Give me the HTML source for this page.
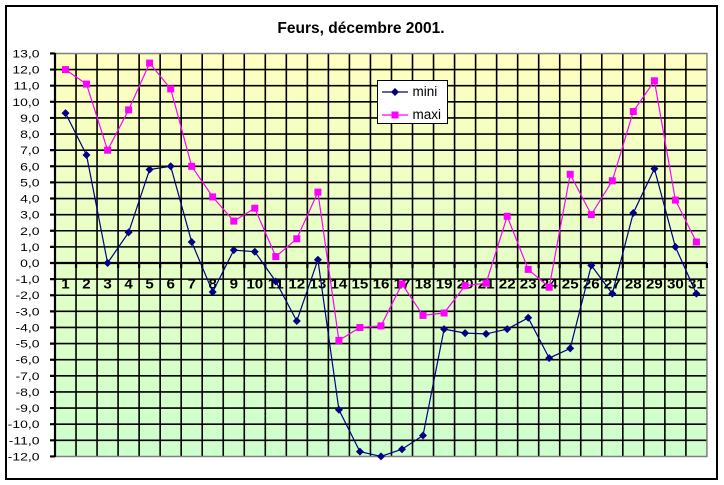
<!DOCTYPE html>
<html>
<head>
<meta charset="utf-8">
<style>
html,body{margin:0;padding:0;background:#fff;}
svg{display:block;}
text{font-family:"Liberation Sans",Arial,sans-serif;}
</style>
</head>
<body>
<svg width="724" height="485" viewBox="0 0 724 485" xmlns="http://www.w3.org/2000/svg">
<defs>
<linearGradient id="bg" x1="0" y1="0" x2="0" y2="1">
<stop offset="0" stop-color="#FFFFC0"/>
<stop offset="1" stop-color="#CCFFCC"/>
</linearGradient>
<marker id="dm" markerWidth="9" markerHeight="9" refX="4.5" refY="4.5" markerUnits="userSpaceOnUse">
<path d="M4.5,0.5 L8.5,4.5 L4.5,8.5 L0.5,4.5Z" fill="#000080"/>
</marker>
<marker id="sq" markerWidth="8" markerHeight="8" refX="4" refY="4" markerUnits="userSpaceOnUse">
<rect x="0.5" y="0.5" width="7" height="7" fill="#FF00FF"/>
</marker>
</defs>
<rect x="0" y="0" width="724" height="485" fill="#fff"/>
<rect x="6" y="6" width="711" height="473" fill="#fff" stroke="#000" stroke-width="2"/>

<text x="361" y="33" font-size="15.5" font-weight="bold" text-anchor="middle">Feurs, décembre 2001.</text>

<!-- plot area -->
<rect x="55" y="53.44" width="651.93" height="403" fill="url(#bg)"/>
<g stroke="#000" stroke-width="1.6" fill="none">
<path d="M55,69.56H707M55,85.68H707M55,101.8H707M55,117.92H707M55,134.04H707M55,150.16H707M55,166.28H707M55,182.4H707M55,198.52H707M55,214.64H707M55,230.76H707M55,246.88H707M55,279.12H707M55,295.24H707M55,311.36H707M55,327.48H707M55,343.6H707M55,359.72H707M55,375.84H707M55,391.96H707M55,408.08H707M55,424.2H707M55,440.32H707"/>
<path d="M76.03,53.4V456.4M97.06,53.4V456.4M118.09,53.4V456.4M139.12,53.4V456.4M160.15,53.4V456.4M181.18,53.4V456.4M202.21,53.4V456.4M223.24,53.4V456.4M244.27,53.4V456.4M265.3,53.4V456.4M286.33,53.4V456.4M307.36,53.4V456.4M328.39,53.4V456.4M349.42,53.4V456.4M370.45,53.4V456.4M391.48,53.4V456.4M412.51,53.4V456.4M433.54,53.4V456.4M454.57,53.4V456.4M475.6,53.4V456.4M496.63,53.4V456.4M517.66,53.4V456.4M538.69,53.4V456.4M559.72,53.4V456.4M580.75,53.4V456.4M601.78,53.4V456.4M622.81,53.4V456.4M643.84,53.4V456.4M664.87,53.4V456.4M685.9,53.4V456.4"/>
</g>
<!-- plot border gray -->
<path d="M55,53.44H706.93V456.44H55" fill="none" stroke="#808080" stroke-width="1.5"/>

<!-- axes -->
<g stroke="#000" stroke-width="2.2" fill="none">
<path d="M55,53V457"/>
<path d="M55,263H707"/>
<path d="M50,53.44H55M50,69.56H55M50,85.68H55M50,101.8H55M50,117.92H55M50,134.04H55M50,150.16H55M50,166.28H55M50,182.4H55M50,198.52H55M50,214.64H55M50,230.76H55M50,246.88H55M50,263H55M50,279.12H55M50,295.24H55M50,311.36H55M50,327.48H55M50,343.6H55M50,359.72H55M50,375.84H55M50,391.96H55M50,408.08H55M50,424.2H55M50,440.32H55M50,456.44H55"/>
<path d="M76.03,263V268M97.06,263V268M118.09,263V268M139.12,263V268M160.15,263V268M181.18,263V268M202.21,263V268M223.24,263V268M244.27,263V268M265.3,263V268M286.33,263V268M307.36,263V268M328.39,263V268M349.42,263V268M370.45,263V268M391.48,263V268M412.51,263V268M433.54,263V268M454.57,263V268M475.6,263V268M496.63,263V268M517.66,263V268M538.69,263V268M559.72,263V268M580.75,263V268M601.78,263V268M622.81,263V268M643.84,263V268M664.87,263V268M685.9,263V268M706.93,263V268"/>
</g>

<!-- y labels -->
<g font-size="11" text-anchor="end" fill="#000">
<text transform="translate(39.5,57.44) scale(1.27,1)">13,0</text>
<text transform="translate(39.5,73.56) scale(1.27,1)">12,0</text>
<text transform="translate(39.5,89.68) scale(1.27,1)">11,0</text>
<text transform="translate(39.5,105.8) scale(1.27,1)">10,0</text>
<text transform="translate(39.5,121.92) scale(1.27,1)">9,0</text>
<text transform="translate(39.5,138.04) scale(1.27,1)">8,0</text>
<text transform="translate(39.5,154.16) scale(1.27,1)">7,0</text>
<text transform="translate(39.5,170.28) scale(1.27,1)">6,0</text>
<text transform="translate(39.5,186.4) scale(1.27,1)">5,0</text>
<text transform="translate(39.5,202.52) scale(1.27,1)">4,0</text>
<text transform="translate(39.5,218.64) scale(1.27,1)">3,0</text>
<text transform="translate(39.5,234.76) scale(1.27,1)">2,0</text>
<text transform="translate(39.5,250.88) scale(1.27,1)">1,0</text>
<text transform="translate(39.5,267) scale(1.27,1)">0,0</text>
<text transform="translate(39.5,283.12) scale(1.27,1)">-1,0</text>
<text transform="translate(39.5,299.24) scale(1.27,1)">-2,0</text>
<text transform="translate(39.5,315.36) scale(1.27,1)">-3,0</text>
<text transform="translate(39.5,331.48) scale(1.27,1)">-4,0</text>
<text transform="translate(39.5,347.6) scale(1.27,1)">-5,0</text>
<text transform="translate(39.5,363.72) scale(1.27,1)">-6,0</text>
<text transform="translate(39.5,379.84) scale(1.27,1)">-7,0</text>
<text transform="translate(39.5,395.96) scale(1.27,1)">-8,0</text>
<text transform="translate(39.5,412.08) scale(1.27,1)">-9,0</text>
<text transform="translate(39.5,428.2) scale(1.27,1)">-10,0</text>
<text transform="translate(39.5,444.32) scale(1.27,1)">-11,0</text>
<text transform="translate(39.5,460.44) scale(1.27,1)">-12,0</text>
</g>

<!-- x labels -->
<g font-size="13.5" font-weight="bold" text-anchor="middle" fill="#000">
<text transform="translate(65.5,288.5) scale(1.12,1)">1</text>
<text transform="translate(86.5,288.5) scale(1.12,1)">2</text>
<text transform="translate(107.6,288.5) scale(1.12,1)">3</text>
<text transform="translate(128.6,288.5) scale(1.12,1)">4</text>
<text transform="translate(149.6,288.5) scale(1.12,1)">5</text>
<text transform="translate(170.7,288.5) scale(1.12,1)">6</text>
<text transform="translate(191.7,288.5) scale(1.12,1)">7</text>
<text transform="translate(212.7,288.5) scale(1.12,1)">8</text>
<text transform="translate(233.8,288.5) scale(1.12,1)">9</text>
<text transform="translate(254.8,288.5) scale(1.12,1)">10</text>
<text transform="translate(275.8,288.5) scale(1.12,1)">11</text>
<text transform="translate(296.8,288.5) scale(1.12,1)">12</text>
<text transform="translate(317.9,288.5) scale(1.12,1)">13</text>
<text transform="translate(338.9,288.5) scale(1.12,1)">14</text>
<text transform="translate(359.9,288.5) scale(1.12,1)">15</text>
<text transform="translate(381.0,288.5) scale(1.12,1)">16</text>
<text transform="translate(402.0,288.5) scale(1.12,1)">17</text>
<text transform="translate(423.0,288.5) scale(1.12,1)">18</text>
<text transform="translate(444.1,288.5) scale(1.12,1)">19</text>
<text transform="translate(465.1,288.5) scale(1.12,1)">20</text>
<text transform="translate(486.1,288.5) scale(1.12,1)">21</text>
<text transform="translate(507.2,288.5) scale(1.12,1)">22</text>
<text transform="translate(528.2,288.5) scale(1.12,1)">23</text>
<text transform="translate(549.2,288.5) scale(1.12,1)">24</text>
<text transform="translate(570.2,288.5) scale(1.12,1)">25</text>
<text transform="translate(591.3,288.5) scale(1.12,1)">26</text>
<text transform="translate(612.3,288.5) scale(1.12,1)">27</text>
<text transform="translate(633.3,288.5) scale(1.12,1)">28</text>
<text transform="translate(654.4,288.5) scale(1.12,1)">29</text>
<text transform="translate(675.4,288.5) scale(1.12,1)">30</text>
<text transform="translate(696.4,288.5) scale(1.12,1)">31</text>
</g>

<!-- series -->
<polyline fill="none" stroke="#FF00FF" stroke-width="1.2" marker-start="url(#sq)" marker-mid="url(#sq)" marker-end="url(#sq)"
points="65.5,69.6 86.5,84.1 107.6,150.2 128.6,109.9 149.6,63.1 170.7,88.9 191.7,166.3 212.7,196.9 233.8,221.1 254.8,208.2 275.8,256.6 296.8,238.8 317.9,192.1 338.9,340.4 359.9,327.5 381.0,325.9 402.0,284.0 423.0,315.4 444.1,313.0 465.1,285.6 486.1,283.2 507.2,216.3 528.2,269.4 549.2,287.2 570.2,174.3 591.3,214.6 612.3,180.8 633.3,111.5 654.4,80.8 675.4,200.1 696.4,242.0"/>
<polyline fill="none" stroke="#000080" stroke-width="1.2" marker-start="url(#dm)" marker-mid="url(#dm)" marker-end="url(#dm)"
points="65.5,113.1 86.5,155.0 107.6,263.0 128.6,232.4 149.6,169.5 170.7,166.3 191.7,242.0 212.7,292.0 233.8,250.1 254.8,251.7 275.8,281.5 296.8,321.0 317.9,259.8 338.9,409.7 359.9,451.6 381.0,456.4 402.0,449.2 423.0,435.5 444.1,329.1 465.1,333.1 486.1,333.9 507.2,329.1 528.2,317.8 549.2,358.1 570.2,348.4 591.3,265.4 612.3,293.6 633.3,213.0 654.4,168.7 675.4,246.9 696.4,293.6"/>

<!-- legend -->
<rect x="377.5" y="80.5" width="70" height="43" fill="#fff" stroke="#000" stroke-width="1"/>
<line x1="382" y1="92" x2="408" y2="92" stroke="#000080" stroke-width="1.2"/>
<path d="M395,88 L399,92 L395,96 L391,92Z" fill="#000080"/>
<text x="412.5" y="96" font-size="13.5">mini</text>
<line x1="382" y1="115" x2="408" y2="115" stroke="#FF00FF" stroke-width="1.2"/>
<rect x="391.5" y="111.5" width="7" height="7" fill="#FF00FF"/>
<text x="412.5" y="119" font-size="13.5">maxi</text>
</svg>
</body>
</html>
